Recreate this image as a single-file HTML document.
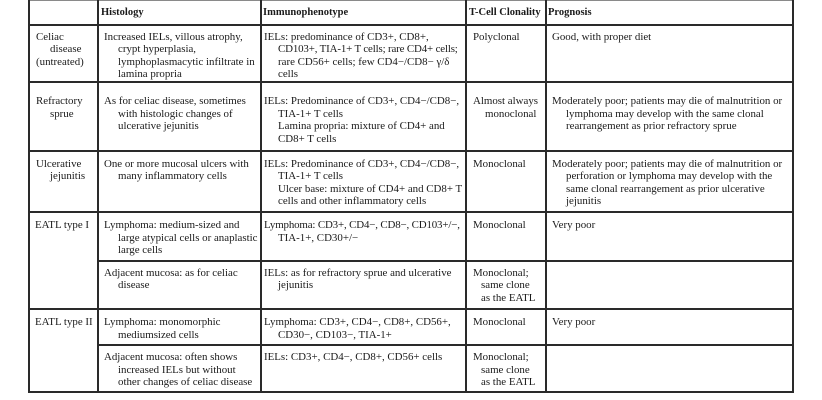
<!DOCTYPE html>
<html>
<head>
<meta charset="utf-8">
<style>
  html,body{margin:0;padding:0;background:#fff;}
  body{width:822px;height:400px;position:relative;overflow:hidden;
       font-family:"Liberation Serif",serif;color:#1a1a1a;}
  .h{position:absolute;height:2px;background:#2a2a2a;}
  .v{position:absolute;width:2px;background:#2a2a2a;top:0;height:393px;}
  .c{position:absolute;font-size:10.9px;line-height:12.6px;white-space:nowrap;}
  .c div{white-space:nowrap;}
  .i{margin-left:14px;}
  .hd{position:absolute;top:6px;font-size:10.5px;font-weight:bold;line-height:13px;white-space:nowrap;}
</style>
</head>
<body>
<!-- top thin line -->
<div style="position:absolute;left:29px;top:0;width:765px;height:1px;background:#8a8a8a;"></div>

<!-- vertical lines -->
<div class="v" style="left:28px;"></div>
<div class="v" style="left:97px;"></div>
<div class="v" style="left:260px;"></div>
<div class="v" style="left:465px;"></div>
<div class="v" style="left:545px;"></div>
<div class="v" style="left:792px;"></div>

<!-- horizontal lines -->
<div class="h" style="left:28px;width:766px;top:24px;"></div>
<div class="h" style="left:28px;width:766px;top:81px;"></div>
<div class="h" style="left:28px;width:766px;top:150px;"></div>
<div class="h" style="left:28px;width:766px;top:211px;"></div>
<div class="h" style="left:97px;width:697px;top:260px;"></div>
<div class="h" style="left:28px;width:766px;top:308px;"></div>
<div class="h" style="left:97px;width:697px;top:344px;"></div>
<div class="h" style="left:28px;width:766px;top:391px;"></div>

<!-- header -->
<div class="hd" style="left:101px;">Histology</div>
<div class="hd" style="left:263px;">Immunophenotype</div>
<div class="hd" style="left:469px;">T-Cell Clonality</div>
<div class="hd" style="left:548px;">Prognosis</div>

<!-- Celiac row (top 25) -->
<div class="c" style="left:36px;top:30.5px;">
  <div>Celiac</div>
  <div class="i">disease</div>
  <div>(untreated)</div>
</div>
<div class="c" style="left:104px;top:30.5px;">
  <div>Increased IELs, villous atrophy,</div>
  <div class="i">crypt hyperplasia,</div>
  <div class="i">lymphoplasmacytic infiltrate in</div>
  <div class="i">lamina propria</div>
</div>
<div class="c" style="left:264px;top:30.5px;">
  <div>IELs: predominance of CD3+, CD8+,</div>
  <div class="i" style="letter-spacing:-0.15px;">CD103+, TIA-1+ T cells; rare CD4+ cells;</div>
  <div class="i">rare CD56+ cells; few CD4−/CD8− γ/δ</div>
  <div class="i">cells</div>
</div>
<div class="c" style="left:473px;top:30.5px;"><div>Polyclonal</div></div>
<div class="c" style="left:552px;top:30.5px;"><div>Good, with proper diet</div></div>

<!-- Refractory sprue (top 82) -->
<div class="c" style="left:36px;top:95px;">
  <div>Refractory</div>
  <div class="i">sprue</div>
</div>
<div class="c" style="left:104px;top:95px;">
  <div>As for celiac disease, sometimes</div>
  <div class="i">with histologic changes of</div>
  <div class="i">ulcerative jejunitis</div>
</div>
<div class="c" style="left:264px;top:95px;">
  <div>IELs: Predominance of CD3+, CD4−/CD8−,</div>
  <div class="i">TIA-1+ T cells</div>
  <div class="i">Lamina propria: mixture of CD4+ and</div>
  <div class="i">CD8+ T cells</div>
</div>
<div class="c" style="left:473px;top:95px;">
  <div>Almost always</div>
  <div style="margin-left:12px;">monoclonal</div>
</div>
<div class="c" style="left:552px;top:95px;">
  <div>Moderately poor; patients may die of malnutrition or</div>
  <div class="i">lymphoma may develop with the same clonal</div>
  <div class="i">rearrangement as prior refractory sprue</div>
</div>

<!-- Ulcerative jejunitis (top 151) -->
<div class="c" style="left:36px;top:157.5px;">
  <div>Ulcerative</div>
  <div class="i">jejunitis</div>
</div>
<div class="c" style="left:104px;top:157.5px;">
  <div>One or more mucosal ulcers with</div>
  <div class="i">many inflammatory cells</div>
</div>
<div class="c" style="left:264px;top:157.5px;">
  <div>IELs: Predominance of CD3+, CD4−/CD8−,</div>
  <div class="i">TIA-1+ T cells</div>
  <div class="i">Ulcer base: mixture of CD4+ and CD8+ T</div>
  <div class="i">cells and other inflammatory cells</div>
</div>
<div class="c" style="left:473px;top:157.5px;"><div>Monoclonal</div></div>
<div class="c" style="left:552px;top:157.5px;">
  <div>Moderately poor; patients may die of malnutrition or</div>
  <div class="i">perforation or lymphoma may develop with the</div>
  <div class="i">same clonal rearrangement as prior ulcerative</div>
  <div class="i">jejunitis</div>
</div>

<!-- EATL type I lymphoma (top 212) -->
<div class="c" style="left:35px;top:219px;"><div>EATL type I</div></div>
<div class="c" style="left:104px;top:219px;">
  <div>Lymphoma: medium-sized and</div>
  <div class="i">large atypical cells or anaplastic</div>
  <div class="i">large cells</div>
</div>
<div class="c" style="left:264px;top:219px;">
  <div style="letter-spacing:-0.15px;">Lymphoma: CD3+, CD4−, CD8−, CD103+/−,</div>
  <div class="i">TIA-1+, CD30+/−</div>
</div>
<div class="c" style="left:473px;top:219px;"><div>Monoclonal</div></div>
<div class="c" style="left:552px;top:219px;"><div>Very poor</div></div>

<!-- Adjacent mucosa (top 261) -->
<div class="c" style="left:104px;top:266.5px;">
  <div>Adjacent mucosa: as for celiac</div>
  <div class="i">disease</div>
</div>
<div class="c" style="left:264px;top:266.5px;">
  <div>IELs: as for refractory sprue and ulcerative</div>
  <div class="i">jejunitis</div>
</div>
<div class="c" style="left:473px;top:266.5px;">
  <div>Monoclonal;</div>
  <div style="margin-left:8px;">same clone</div>
  <div style="margin-left:8px;">as the EATL</div>
</div>

<!-- EATL type II lymphoma (top 309) -->
<div class="c" style="left:35px;top:316px;"><div>EATL type II</div></div>
<div class="c" style="left:104px;top:316px;">
  <div>Lymphoma: monomorphic</div>
  <div class="i">mediumsized cells</div>
</div>
<div class="c" style="left:264px;top:316px;">
  <div>Lymphoma: CD3+, CD4−, CD8+, CD56+,</div>
  <div class="i">CD30−, CD103−, TIA-1+</div>
</div>
<div class="c" style="left:473px;top:316px;"><div>Monoclonal</div></div>
<div class="c" style="left:552px;top:316px;"><div>Very poor</div></div>

<!-- Adjacent mucosa (top 345) -->
<div class="c" style="left:104px;top:351px;">
  <div>Adjacent mucosa: often shows</div>
  <div class="i">increased IELs but without</div>
  <div class="i">other changes of celiac disease</div>
</div>
<div class="c" style="left:264px;top:351px;">
  <div>IELs: CD3+, CD4−, CD8+, CD56+ cells</div>
</div>
<div class="c" style="left:473px;top:351px;">
  <div>Monoclonal;</div>
  <div style="margin-left:8px;">same clone</div>
  <div style="margin-left:8px;">as the EATL</div>
</div>
</body>
</html>
